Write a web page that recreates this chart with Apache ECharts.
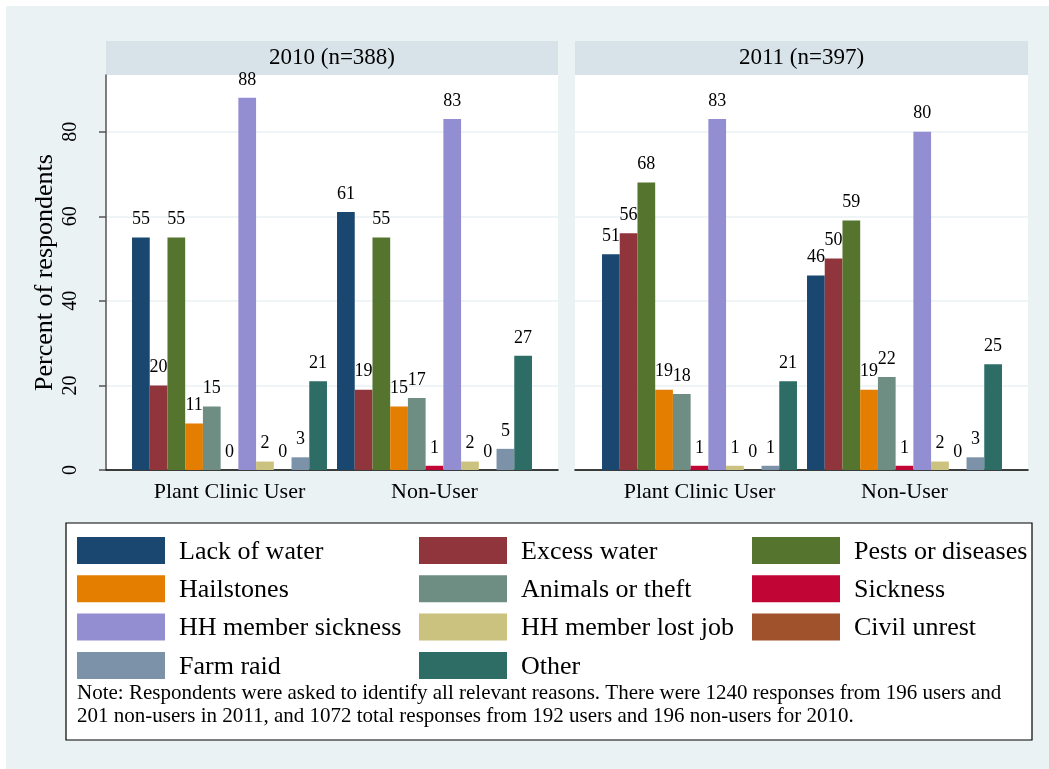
<!DOCTYPE html>
<html>
<head>
<meta charset="utf-8">
<script src="https://cdn.jsdelivr.net/npm/echarts@6/dist/echarts.min.js"></script>
<style>
html,body{margin:0;padding:0;background:#fff;}
#chart{width:1049px;height:769px;}
</style>
</head>
<body>
<div id="chart"></div>
<script>
// ---- Data ----
const categories = ['Plant Clinic User', 'Non-User'];
const panelTitles = ['2010 (n=388)', '2011 (n=397)'];
const reasons = ['Lack of water', 'Excess water', 'Pests or diseases', 'Hailstones', 'Animals or theft',
  'Sickness', 'HH member sickness', 'HH member lost job', 'Civil unrest', 'Farm raid', 'Other'];
// values per reason (same order as reasons)
const y2010User = [55, 20, 55, 11, 15, 0, 88, 2, 0, 3, 21];
const y2010NonUser = [61, 19, 55, 15, 17, 1, 83, 2, 0, 5, 27];
const y2011User = [51, 56, 68, 19, 18, 1, 83, 1, 0, 1, 21];
const y2011NonUser = [46, 50, 59, 19, 22, 1, 80, 2, 0, 3, 25];
const yTicks = [0, 20, 40, 60, 80];
const yMax = 93.4;
const yTitle = 'Percent of respondents';
const noteText = 'Note: Respondents were asked to identify all relevant reasons. There were 1240 responses from 196 users and\n201 non-users in 2011, and 1072 total responses from 192 users and 196 non-users for 2010.';

// ---- Styles ----
const colors = ['#1a476f', '#90353b', '#55752f', '#e37e00', '#6e8e84', '#c10534',
  '#938dd2', '#cac27e', '#a0522d', '#7b92a8', '#2d6d66'];
const serif = "'Liberation Serif', 'Times New Roman', serif";
const legendCols = [
  [0, 3, 6, 9],
  [1, 4, 7, 10],
  [2, 5, 8]
];
const legendLefts = [77, 419, 752];

const panels = [
  { left: 106, right: 558, barLeft: 127, barRight: 537, data: [y2010User, y2010NonUser] },
  { left: 575, right: 1028, barLeft: 597, barRight: 1007, data: [y2011User, y2011NonUser] }
];
const plotTop = 75, plotBottom = 470;
const W = 1049, H = 769;

const grid = [];
const xAxis = [];
const yAxis = [];
panels.forEach((p, i) => {
  grid.push({ left: p.left, width: p.right - p.left, top: plotTop, height: plotBottom - plotTop,
    show: true, backgroundColor: '#ffffff', borderWidth: 0 });
  xAxis.push({ gridIndex: i, type: 'value', min: 0, max: 1,
    axisLine: { show: true, lineStyle: { color: '#000', width: 1.5 } },
    axisTick: { show: false }, axisLabel: { show: false }, splitLine: { show: false } });
  yAxis.push({ gridIndex: i, type: 'value', min: 0, max: yMax,
    axisLine: { show: i === 0, onZero: false, lineStyle: { color: '#555', width: 1.5 } },
    axisTick: { show: i === 0, length: 7, customValues: yTicks, lineStyle: { color: '#555', width: 1.5 } },
    axisLabel: { show: i === 0, customValues: yTicks, rotate: 90, margin: 25, fontSize: 20,
      fontFamily: serif, color: '#000' },
    splitLine: { show: true, lineStyle: { color: '#eaf2f3', width: 1.5 } },
    name: i === 0 ? yTitle : '', nameLocation: 'middle', nameGap: 48,
    nameTextStyle: { fontSize: 26, fontFamily: serif, color: '#000' } });
});
panels.forEach((p, i) => {
  grid.push({ left: p.barLeft, width: p.barRight - p.barLeft, top: plotTop, height: plotBottom - plotTop });
  xAxis.push({ gridIndex: 2 + i, type: 'category', data: categories,
    axisLine: { show: false }, axisTick: { show: false },
    axisLabel: { fontSize: 22, fontFamily: serif, color: '#000', margin: 11 } });
  yAxis.push({ gridIndex: 2 + i, type: 'value', min: 0, max: yMax, show: false });
});

const series = [];
panels.forEach((p, i) => {
  reasons.forEach((r, k) => {
    series.push({
      type: 'bar', name: r, xAxisIndex: 2 + i, yAxisIndex: 2 + i,
      data: [p.data[0][k], p.data[1][k]],
      barGap: '0%', barCategoryGap: '4.9%',
      itemStyle: { color: colors[k] },
      label: { show: true, position: 'top', distance: 9, fontSize: 18, fontFamily: serif, color: '#000' },
      emphasis: { disabled: true }
    });
  });
});

const legend = legendCols.map((col, c) => ({
  orient: 'vertical', left: legendLefts[c], top: 537, padding: 0,
  itemWidth: 88, itemHeight: 27, itemGap: 10.3, icon: 'rect',
  selectedMode: false,
  data: col.map(k => reasons[k]),
  formatter: name => '{t|' + name + '}',
  textStyle: {
    fontSize: 26, fontFamily: serif, color: '#000',
    rich: { t: { fontSize: 26, fontFamily: serif, color: '#000', padding: [3, 0, 0, 9] } }
  }
}));

const graphic = [
  { type: 'rect', shape: { x: 0, y: 0, width: W, height: 6 }, style: { fill: '#fff' }, silent: true },
  { type: 'rect', shape: { x: 0, y: 0, width: 6, height: H }, style: { fill: '#fff' }, silent: true },
  { type: 'rect', shape: { x: 66, y: 523, width: 966, height: 217 },
    style: { fill: '#fff', stroke: '#000', lineWidth: 1.2 }, silent: true },
  { type: 'text', x: 77, y: 682, style: { text: noteText, font: '21px ' + serif, fill: '#000', lineHeight: 23 }, silent: true }
];
panels.forEach((p, i) => {
  graphic.push({ type: 'rect', shape: { x: p.left, y: 41, width: p.right - p.left, height: plotTop - 41 },
    style: { fill: '#d7e3e9' }, silent: true });
  graphic.push({ type: 'text', x: (p.left + p.right) / 2, y: 58,
    style: { text: panelTitles[i], font: '23px ' + serif, fill: '#000', align: 'center', verticalAlign: 'middle' }, silent: true });
});

const chart = echarts.init(document.getElementById('chart'), null, { renderer: 'canvas' });
chart.setOption({
  backgroundColor: '#eaf2f3',
  textStyle: { fontFamily: serif },
  animation: false,
  grid, xAxis, yAxis, series, legend, graphic
});
</script>
</body>
</html>
